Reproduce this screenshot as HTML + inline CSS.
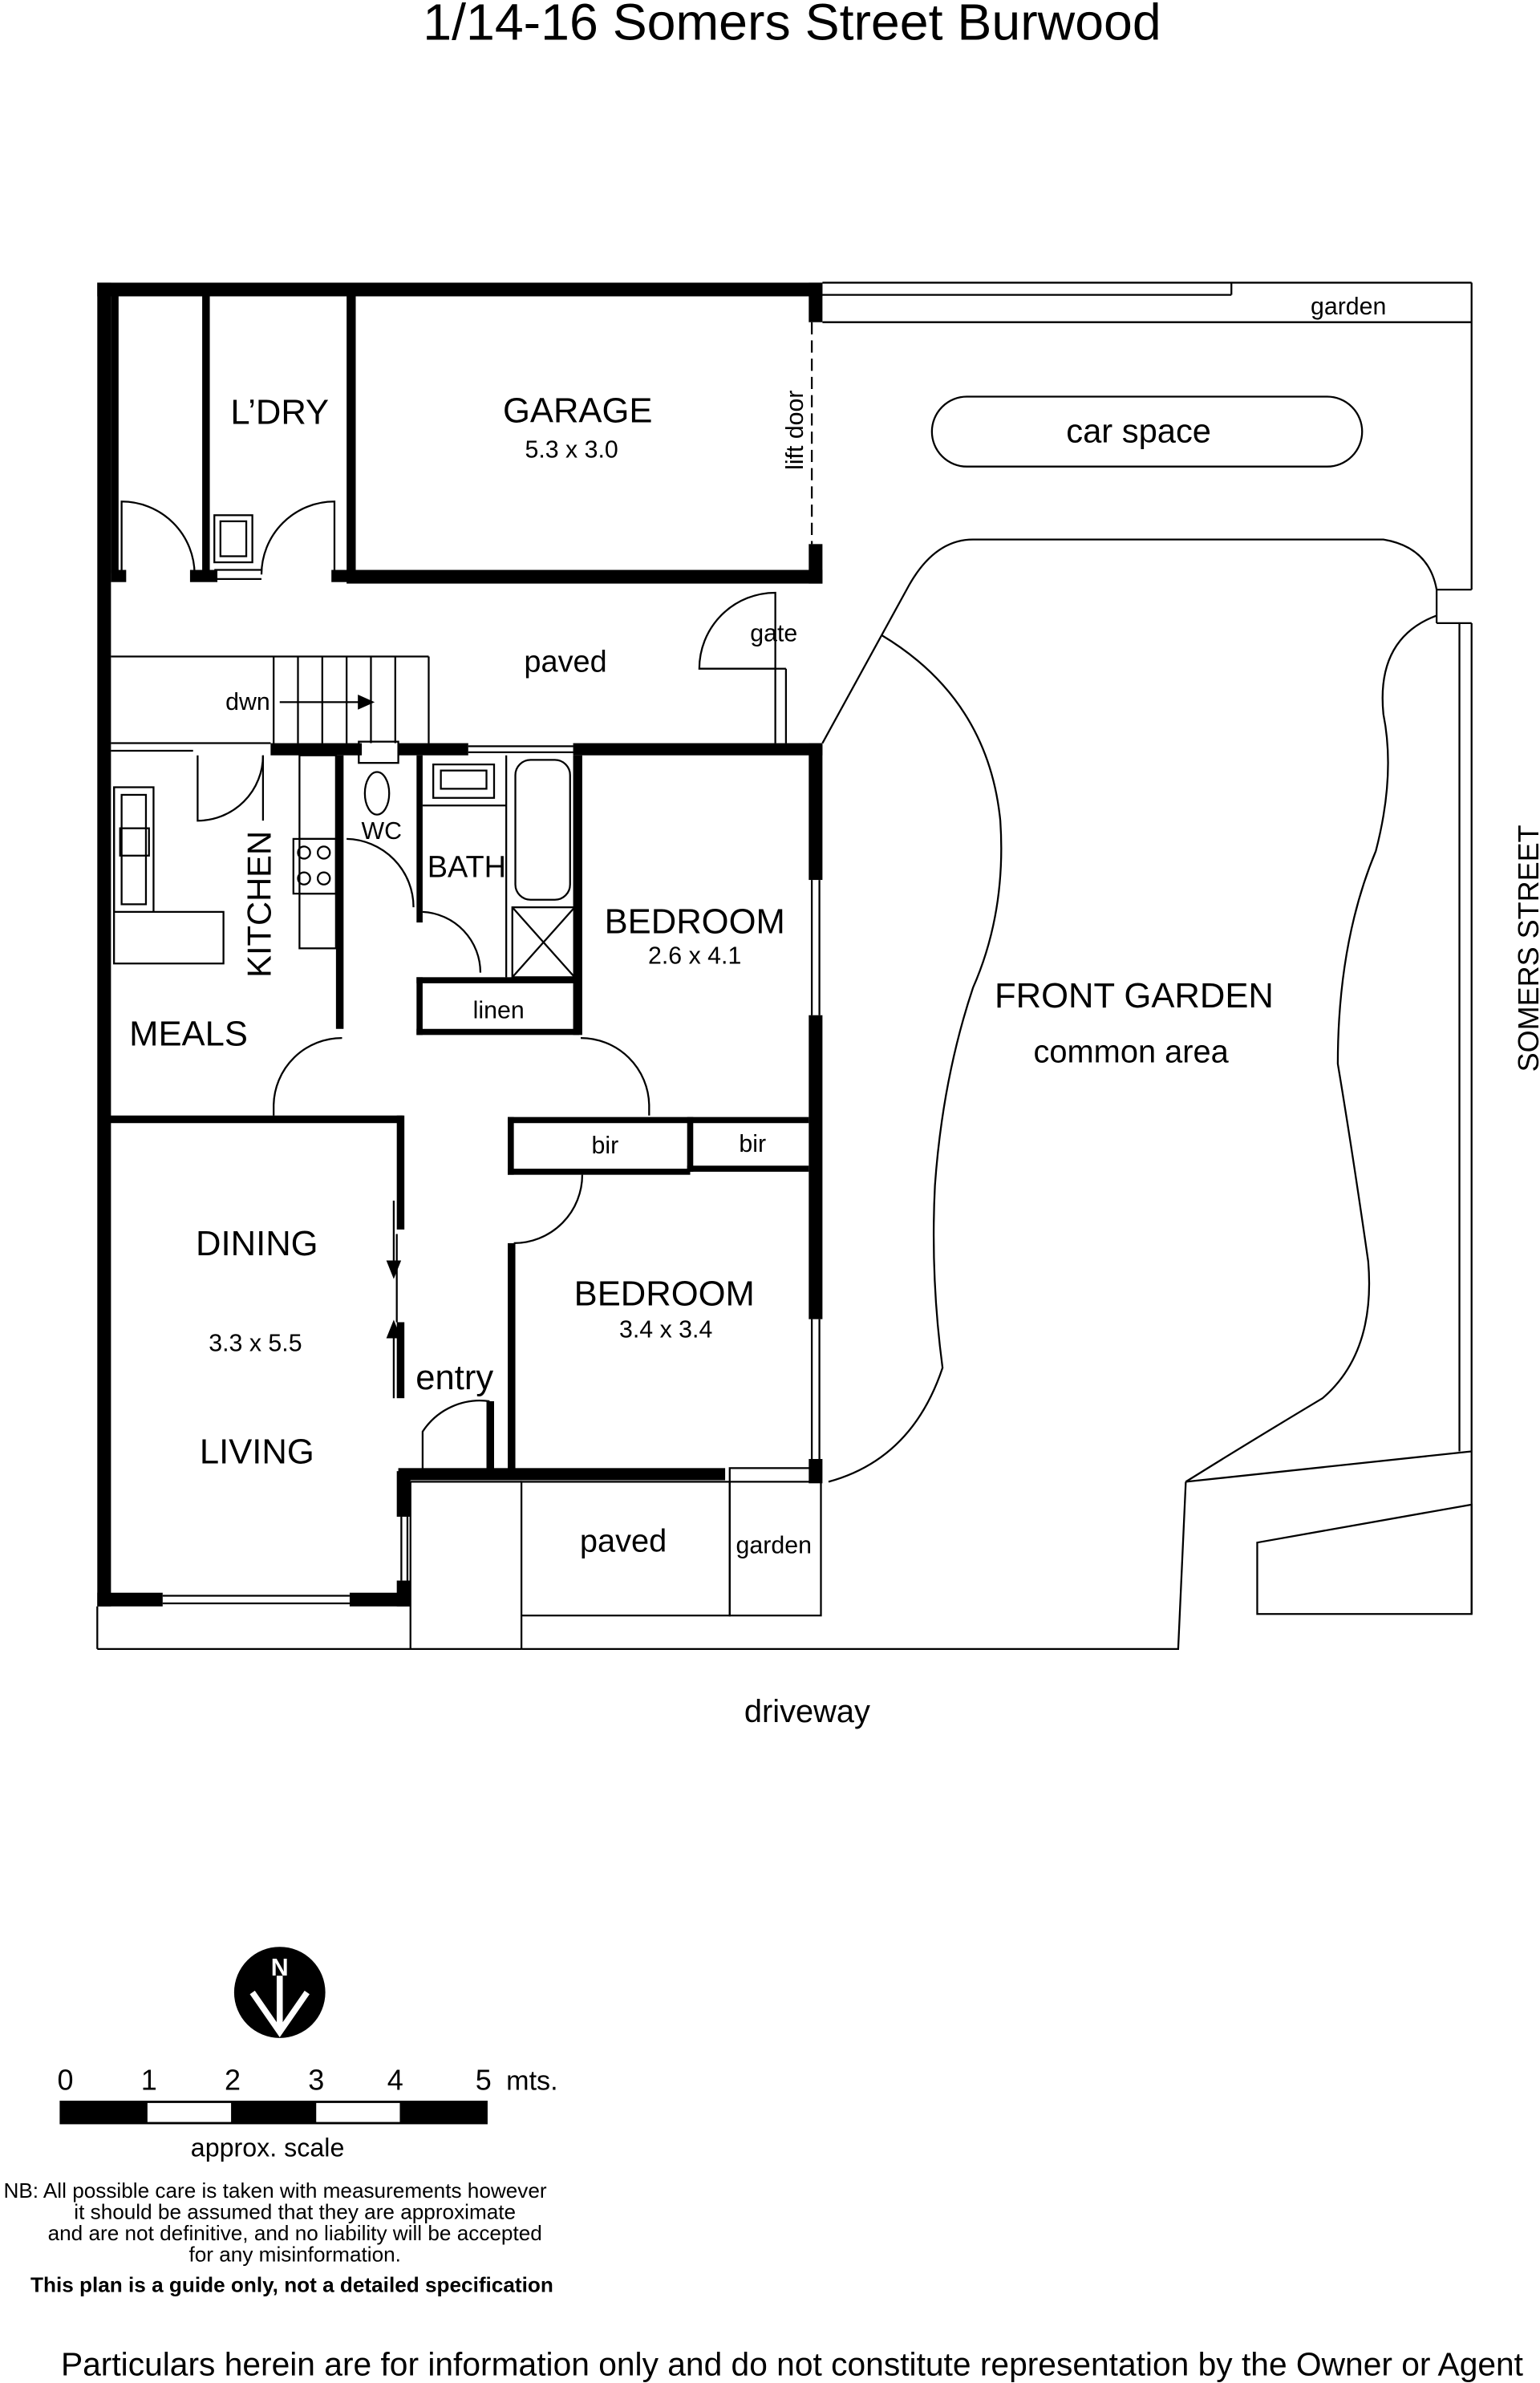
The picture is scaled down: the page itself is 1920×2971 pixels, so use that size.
<!DOCTYPE html>
<html><head><meta charset="utf-8"><style>
html,body{margin:0;padding:0;background:#fff}
svg{display:block}
text{font-family:"Liberation Sans",sans-serif;fill:#000}
</style></head><body>
<svg width="1920" height="2971" viewBox="0 0 1013 1568" preserveAspectRatio="none" xmlns="http://www.w3.org/2000/svg">
<rect width="1013" height="1568" fill="#fff"/>
<text x="521" y="26" font-size="34" text-anchor="middle">1/14-16 Somers Street Burwood</text>

<g fill="#000">
<rect x="64" y="186" width="477" height="9"/>
<rect x="64" y="186" width="9" height="871"/>
<rect x="64" y="1048" width="43" height="9"/>
<rect x="230" y="1048" width="40" height="9"/>
<rect x="261" y="968" width="9" height="30"/>
<rect x="261" y="1040" width="9" height="17"/>
<rect x="228" y="194" width="6" height="185"/>
<rect x="228" y="375" width="313" height="9"/>
<rect x="532" y="186" width="9" height="26"/>
<rect x="532" y="358" width="9" height="26"/>
<rect x="133" y="194" width="5" height="183"/>
<rect x="73" y="194" width="5" height="183"/>
<rect x="73" y="375" width="10" height="8"/>
<rect x="125" y="375" width="18" height="8"/>
<rect x="218" y="375" width="12" height="8"/>
<rect x="178" y="489" width="60" height="8"/>
<rect x="262" y="489" width="46" height="8"/>
<rect x="377" y="489" width="164" height="8"/>
<rect x="532" y="489" width="9" height="90"/>
<rect x="532" y="668" width="9" height="200"/>
<rect x="532" y="960" width="9" height="16"/>
<rect x="262" y="966" width="215" height="8"/>
<rect x="221" y="497" width="5" height="180"/>
<rect x="274" y="497" width="4" height="110"/>
<rect x="274" y="643" width="107" height="4"/>
<rect x="274" y="643" width="4" height="38"/>
<rect x="274" y="677" width="107" height="4"/>
<rect x="377" y="497" width="6" height="184"/>
<rect x="72" y="734" width="193" height="5"/>
<rect x="261" y="734" width="5" height="75"/>
<rect x="261" y="870" width="5" height="50"/>
<rect x="334" y="735" width="198" height="4"/>
<rect x="334" y="735" width="4" height="38"/>
<rect x="334" y="769" width="120" height="4"/>
<rect x="452" y="735" width="4" height="36"/>
<rect x="452" y="767" width="80" height="4"/>
<rect x="334" y="818" width="5" height="150"/>
<rect x="320" y="922" width="5" height="48"/>
</g>

<g fill="none" stroke="#000" stroke-width="1.2">
<line x1="541" y1="186" x2="968" y2="186"/>
<line x1="541" y1="194" x2="810" y2="194"/>
<line x1="810" y1="186" x2="810" y2="194"/>
<line x1="541" y1="212" x2="968" y2="212"/>
<line x1="968" y1="186" x2="968" y2="388"/>
<line x1="945" y1="388" x2="968" y2="388"/>
<line x1="968" y1="410" x2="968" y2="1062"/>
<line x1="960" y1="410" x2="960" y2="955"/>
<line x1="945" y1="388" x2="945" y2="410"/>
<line x1="945" y1="410" x2="968" y2="410"/>
<line x1="534" y1="212" x2="534" y2="358" stroke-dasharray="8,4"/>
<rect x="613" y="261" width="283" height="46" rx="23"/>
<line x1="73" y1="432" x2="282" y2="432"/>
<line x1="282" y1="432" x2="282" y2="489"/>
<line x1="180" y1="432" x2="180" y2="489"/>
<line x1="196" y1="432" x2="196" y2="489"/>
<line x1="212" y1="432" x2="212" y2="489"/>
<line x1="228" y1="432" x2="228" y2="489"/>
<line x1="244" y1="432" x2="244" y2="489"/>
<line x1="260" y1="432" x2="260" y2="489"/>
<line x1="73" y1="489" x2="178" y2="489"/>
<line x1="73" y1="494" x2="127" y2="494"/>
<line x1="510" y1="440" x2="510" y2="489"/>
<line x1="517" y1="440" x2="517" y2="489"/>
<line x1="510" y1="440" x2="517" y2="440"/>
<path d="M510 440 L460 440 A50 50 0 0 1 510 390 Z"/>
<path d="M541 489 L598 385 Q615 355 640 355 L910 355 Q940 360 945 388"/>
<path d="M580 418 Q650 460 658 540 Q662 600 640 650 Q620 710 615 780 Q612 840 620 900 Q600 960 545 975"/>
<path d="M945 405 Q905 420 910 470 Q918 510 905 560 Q880 620 880 700 Q890 760 900 830 Q905 890 870 920 Q820 950 780 975"/>
<path d="M780 975 L968 955"/>
<path d="M780 975 L775 1085 L343 1085"/>
<path d="M827 1015 L968 990 L968 1062 L827 1062 Z"/>
<line x1="64" y1="1057" x2="64" y2="1085"/>
<line x1="64" y1="1085" x2="343" y2="1085"/>
<line x1="270" y1="975" x2="343" y2="975"/>
<line x1="270" y1="975" x2="270" y2="1085"/>
<rect x="343" y="975" width="137" height="88"/>
<rect x="480" y="966" width="60" height="97"/>
<line x1="480" y1="975" x2="540" y2="975"/>
<line x1="343" y1="1063" x2="343" y2="1085"/>
<line x1="107" y1="1050" x2="230" y2="1050"/><line x1="107" y1="1055" x2="230" y2="1055"/>
<line x1="264" y1="998" x2="264" y2="1040"/><line x1="268" y1="998" x2="268" y2="1040"/>
<line x1="534" y1="579" x2="534" y2="668"/><line x1="539" y1="579" x2="539" y2="668"/>
<line x1="534" y1="868" x2="534" y2="960"/><line x1="539" y1="868" x2="539" y2="960"/>
<line x1="308" y1="491" x2="377" y2="491"/><line x1="308" y1="495" x2="377" y2="495"/>
<path d="M80 378 L80 330 A48 48 0 0 1 128 378"/>
<path d="M220 378 L220 330 A48 48 0 0 0 172 378"/>
<rect x="141" y="339" width="25" height="31"/><rect x="145" y="343" width="17" height="23"/>
<line x1="141" y1="375" x2="172" y2="375"/><line x1="141" y1="381" x2="172" y2="381"/>
<path d="M130 497 L130 540 A43 43 0 0 0 173 497" />
<line x1="173" y1="497" x2="173" y2="540"/>
<path d="M228 552 A45 45 0 0 1 272 597"/>
<path d="M278 600 A40 40 0 0 1 316 640"/>
<path d="M180 727 A45 45 0 0 1 225 683"/><line x1="180" y1="727" x2="180" y2="734"/>
<path d="M427 727 A45 45 0 0 0 382 683"/><line x1="427" y1="727" x2="427" y2="734"/>
<path d="M338 818 A45 45 0 0 0 383 773"/>
<path d="M278 970 L278 942 A45 45 0 0 1 322 922"/>
<line x1="261" y1="812" x2="261" y2="870"/>
<rect x="75" y="518" width="26" height="82"/>
<rect x="80" y="523" width="16" height="72"/>
<rect x="79" y="545" width="19" height="18"/>
<path d="M75 518 L75 634 L147 634 L147 600 L101 600"/>
<rect x="193" y="552" width="28" height="36"/>
<circle cx="200" cy="561" r="4"/><circle cx="213" cy="561" r="4"/><circle cx="200" cy="578" r="4"/><circle cx="213" cy="578" r="4"/>
<rect x="197" y="497" width="24" height="127"/>
<line x1="197" y1="552" x2="221" y2="552"/><line x1="197" y1="588" x2="221" y2="588"/>
<rect x="236" y="488" width="26" height="14"/>
<ellipse cx="248" cy="522" rx="8" ry="14"/>
<rect x="285" y="503" width="40" height="22"/><rect x="290" y="507" width="30" height="12"/>
<line x1="278" y1="530" x2="333" y2="530"/>
<line x1="333" y1="497" x2="333" y2="643"/>
<rect x="339" y="500" width="36" height="92" rx="10"/>
<rect x="337" y="597" width="41" height="46"/>
<line x1="337" y1="597" x2="378" y2="643"/><line x1="378" y1="597" x2="337" y2="643"/>
</g>
<g stroke="#000" stroke-width="1.2" fill="#000">
<line x1="184" y1="462" x2="240" y2="462"/><polygon points="245,462 236,458 236,466"/>
<line x1="259" y1="790" x2="259" y2="834"/><polygon points="259,840 255,830 263,830"/>
<line x1="259" y1="876" x2="259" y2="920"/><polygon points="259,870 255,880 263,880"/>
</g>

<g font-size="23" text-anchor="middle">
<text x="184" y="279">L’DRY</text>
<text x="380" y="278">GARAGE</text>
<text x="749" y="291" font-size="22">car space</text>
<text x="372" y="442" font-size="20">paved</text>
<text x="457" y="614">BEDROOM</text>
<text x="437" y="859">BEDROOM</text>
<text x="746" y="663">FRONT GARDEN</text>
<text x="744" y="699" font-size="21">common area</text>
<text x="124" y="688">MEALS</text>
<text x="169" y="826">DINING</text>
<text x="169" y="963">LIVING</text>
<text x="299" y="914">entry</text>
<text x="410" y="1021" font-size="21">paved</text>
<text x="531" y="1133" font-size="21">driveway</text>
<text x="307" y="577" font-size="20">BATH</text>
</g>
<g font-size="16" text-anchor="middle">
<text x="376" y="301">5.3 x 3.0</text>
<text x="457" y="634">2.6 x 4.1</text>
<text x="438" y="880">3.4 x 3.4</text>
<text x="168" y="889">3.3 x 5.5</text>
<text x="887" y="207">garden</text>
<text x="509" y="422">gate</text>
<text x="163" y="467">dwn</text>
<text x="251" y="552">WC</text>
<text x="328" y="670">linen</text>
<text x="398" y="759">bir</text>
<text x="495" y="758">bir</text>
<text x="509" y="1022">garden</text>
</g>
<text x="0" y="0" font-size="16" text-anchor="middle" transform="translate(528,283) rotate(-90)">lift door</text>
<text x="0" y="0" font-size="22" text-anchor="middle" transform="translate(178,595) rotate(-90)">KITCHEN</text>
<text x="0" y="0" font-size="19" text-anchor="middle" transform="translate(1012,624) rotate(-90)">SOMERS STREET</text>

<circle cx="184" cy="1311" r="30" fill="#000"/>
<path d="M166 1311 L184 1337 L202 1311" stroke="#fff" stroke-width="4" fill="none"/>
<line x1="184" y1="1300" x2="184" y2="1335" stroke="#fff" stroke-width="4"/>
<text x="184" y="1300" font-size="16" font-weight="bold" text-anchor="middle" style="fill:#fff">N</text>

<g font-size="19" text-anchor="middle">
<text x="43" y="1375">0</text><text x="98" y="1375">1</text><text x="153" y="1375">2</text><text x="208" y="1375">3</text><text x="260" y="1375">4</text><text x="318" y="1375">5</text>
<text x="350" y="1375" font-size="18">mts.</text>
</g>
<rect x="40" y="1383" width="280" height="14" fill="#fff" stroke="#000" stroke-width="1.5"/>
<rect x="40" y="1383" width="57" height="14" fill="#000"/>
<rect x="152" y="1383" width="56" height="14" fill="#000"/>
<rect x="263" y="1383" width="57" height="14" fill="#000"/>
<text x="176" y="1419" font-size="17" text-anchor="middle">approx. scale</text>
<g font-size="13.8" text-anchor="middle">
<text x="181" y="1446">NB: All possible care is taken with measurements however</text>
<text x="194" y="1460">it should be assumed that they are approximate</text>
<text x="194" y="1474">and are not definitive, and no liability will be accepted</text>
<text x="194" y="1488">for any misinformation.</text>
<text x="192" y="1508" font-weight="bold">This plan is a guide only, not a detailed specification</text>
</g>
<text x="521" y="1563" font-size="21.5" text-anchor="middle">Particulars herein are for information only and do not constitute representation by the Owner or Agent</text>
</svg>
</body></html>
